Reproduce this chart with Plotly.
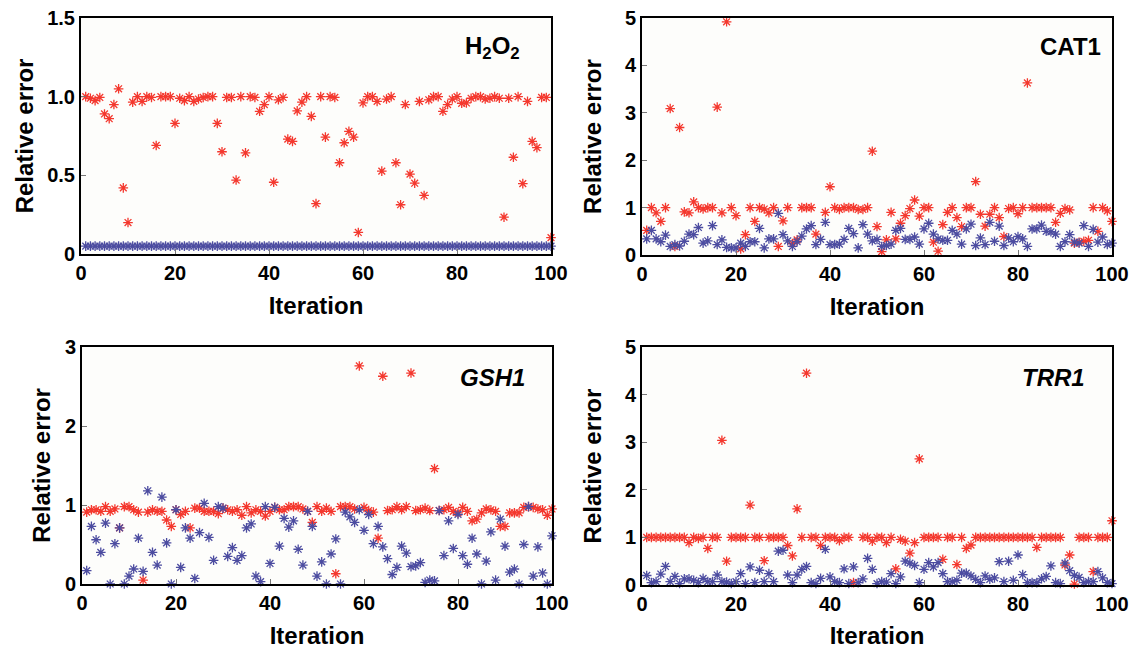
import plotly.graph_objects as go

iterations = list(range(1, 101))

h2o2_red = [1.0, 0.99, 0.975, 0.995, 0.89, 0.86, 0.95, 1.05, 0.42, 0.20,
            0.965, 1.0, 0.97, 1.0, 0.995, 0.69, 1.0, 1.0, 1.0, 0.83,
            0.99, 0.975, 1.0, 0.97, 0.985, 0.995, 1.0, 1.0, 0.83, 0.65,
            0.995, 0.995, 0.47, 1.0, 0.643, 1.0, 0.995, 0.907, 0.95, 1.0,
            0.456, 0.98, 0.995, 0.73, 0.716, 0.91, 0.965, 1.0, 0.875, 0.32,
            1.0, 0.743, 1.0, 0.995, 0.58, 0.707, 0.78, 0.743, 0.137, 0.96,
            1.0, 1.0, 0.97, 0.527, 0.985, 1.0, 0.58, 0.313, 0.95, 0.508,
            0.45, 0.97, 0.372, 0.98, 1.0, 1.0, 0.907, 0.95, 0.985, 1.0,
            0.958, 0.96, 0.99, 1.0, 1.0, 0.985, 0.99, 1.0, 0.99, 0.234,
            0.99, 0.615, 1.0, 0.447, 0.97, 0.716, 0.676, 0.995, 0.995, 0.104]
h2o2_blue = [0.05, 0.05, 0.05, 0.05, 0.05, 0.05, 0.05, 0.05, 0.05, 0.05,
             0.05, 0.05, 0.05, 0.05, 0.05, 0.05, 0.05, 0.05, 0.05, 0.05,
             0.05, 0.05, 0.05, 0.05, 0.05, 0.05, 0.05, 0.05, 0.05, 0.05,
             0.05, 0.05, 0.05, 0.05, 0.05, 0.05, 0.05, 0.05, 0.05, 0.05,
             0.05, 0.05, 0.05, 0.05, 0.05, 0.05, 0.05, 0.05, 0.05, 0.05,
             0.05, 0.05, 0.05, 0.05, 0.05, 0.05, 0.05, 0.05, 0.05, 0.05,
             0.05, 0.05, 0.05, 0.05, 0.05, 0.05, 0.05, 0.05, 0.05, 0.05,
             0.05, 0.05, 0.05, 0.05, 0.05, 0.05, 0.05, 0.05, 0.05, 0.05,
             0.05, 0.05, 0.05, 0.05, 0.05, 0.05, 0.05, 0.05, 0.05, 0.05,
             0.05, 0.05, 0.05, 0.05, 0.05, 0.05, 0.05, 0.05, 0.05, 0.05]

cat1_red = [0.52, 1.0, 0.89, 0.71, 1.0, 3.09, 0.18, 2.69, 0.91, 0.89,
            1.12, 1.0, 0.97, 1.0, 1.0, 3.12, 0.89, 4.92, 1.0, 0.83,
            0.13, 0.43, 1.0, 0.71, 1.0, 0.97, 0.89, 1.0, 0.18, 0.72,
            1.0, 0.24, 0.32, 1.0, 1.0, 1.0, 0.44, None, 0.9, 1.44,
            1.0, 0.96, 1.0, 1.0, 1.0, 0.96, 0.96, 1.0, 2.19, 0.6,
            0.07, 0.32, 0.9, 0.34, 0.67, 0.83, 0.98, 1.16, 0.82, 1.0,
            1.0, 0.27, 0.08, 0.64, 0.9, 1.0, 0.79, 0.6, 1.0, 1.0,
            1.55, 0.86, 0.61, 0.86, 1.0, 0.79, 0.39, 0.98, 1.0, 0.87,
            1.0, 3.63, 1.0, 1.0, 1.0, 1.0, 1.0, 0.69, 0.88, 0.98,
            0.95, 0.25, 0.27, 0.29, 0.31, 1.0, 0.5, 1.0, 0.93, 0.71]
cat1_blue = [0.34, 0.52, 0.34, 0.28, 0.42, 0.18, 0.22, 0.19, 0.29, 0.44,
             0.43, 0.58, 0.25, 0.3, 0.62, 0.22, 0.32, 0.16, 0.15, 0.15,
             0.25, 0.18, 0.28, 0.28, 0.56, 0.15, 0.34, 0.34, 0.88, 0.43,
             0.3, 0.18, 0.28, 0.4, 0.55, 0.62, 0.22, 0.33, 0.69, 0.22,
             0.22, 0.23, 0.33, 0.56, 0.45, 0.15, 0.64, 0.44, 0.3, 0.33,
             0.18, 0.2, 0.23, 0.52, 0.56, 0.33, 0.33, 0.38, 0.23, 0.55,
             0.67, 0.44, 0.34, 0.31, 0.31, 0.52, 0.44, 0.23, 0.55, 0.65,
             0.2, 0.36, 0.22, 0.69, 0.29, 0.61, 0.2, 0.36, 0.28, 0.39,
             0.34, 0.18, 0.55, 0.55, 0.63, 0.5, 0.49, 0.44, 0.18, 0.28,
             0.43, 0.27, 0.25, 0.62, 0.18, 0.54, 0.27, 0.38, 0.22, 0.25]

gsh1_red = [0.91, 0.94, 0.94, 0.92, 0.98, 0.92, 0.95, 0.71, 0.98, 0.98,
            0.94, 0.91, 0.05, 0.91, 0.94, 0.92, 0.92, 0.81, 0.73, 0.94,
            0.88, 0.92, 0.71, 0.96, 0.96, 0.92, 0.92, 0.92, 0.89, 0.96,
            0.94, 0.92, 0.94, 0.87, 0.98, 0.9, 0.94, 0.92, 0.86, 0.92,
            0.97, 0.94, 0.94, 0.98, 0.98, 0.98, 0.95, 0.92, 0.78, 0.98,
            0.92, 0.96, 0.92, 0.13, 0.98, 0.98, 0.98, 0.95, 2.76, 0.97,
            0.93, 0.91, 0.58, 2.63, 0.93, 0.94, 0.98, 0.94, 0.98, 2.67,
            0.93, 0.94, 0.96, 0.93, 1.46, 0.93, 0.94, 0.97, 0.92, 0.9,
            0.97, 0.92, 0.8, 0.82, 0.9, 0.95, 0.94, 0.92, 0.73, 0.73,
            0.9, 0.9, 0.9, 0.97, 0.98, 0.97, 0.95, 0.94, 0.87, 0.95]
gsh1_blue = [0.17, 0.73, 0.56, 0.40, 0.77, 0.0, 0.51, 0.71, 0.0, 0.10,
             0.19, 0.58, 0.16, 1.18, 0.40, 0.24, 1.1, 0.52, 0.0, 0.94,
             0.21, 0.71, 0.58, 0.07, 0.65, 1.02, 0.59, 0.30, 0.98, 0.96,
             0.35, 0.46, 0.30, 0.36, 0.71, 0.76, 0.1, 0.03, 0.98, 0.26,
             0.97, 0.48, 0.83, 0.72, 0.8, 0.44, 0.24, 0.92, 0.73, 0.1,
             0.28, 0.0, 0.38, 0.57, 0.0, 0.91, 0.85, 0.78, 0.94, 0.68,
             0.88, 0.51, 0.73, 0.47, 0.32, 0.12, 0.21, 0.48, 0.39, 0.22,
             0.23, 0.27, 0.02, 0.05, 0.04, 0.93, 0.36, 0.8, 0.45, 0.88,
             0.36, 0.25, 0.58, 0.38, 0.0, 0.29, 0.66, 0.05, 0.82, 0.48,
             0.15, 0.19, 0.0, 0.5, 0.98, 0.1, 0.47, 0.14, 0.0, 0.61]

trr1_red = [1.0, 1.0, 1.0, 1.0, 1.0, 1.0, 1.0, 1.0, 1.0, 0.89,
            1.0, 0.98, 1.0, 0.77, 1.0, 1.0, 3.04, 0.5, 1.0, 1.0,
            1.0, 1.0, 1.68, 1.0, 1.0, 0.51, 1.0, 1.0, 1.0, 1.0,
            0.83, 0.61, 1.6, 1.0, 4.45, 1.0, 1.0, 0.83, 1.0, 1.0,
            1.0, 0.93, 1.0, 1.0, 0.05, None, 1.0, 1.0, 0.92, 1.0,
            1.0, 0.89, 1.0, 0.34, 0.96, 0.92, 0.67, 0.89, 2.65, 1.0,
            1.0, 1.0, 1.0, 0.54, 1.0, 1.0, 0.43, 1.0, 0.77, 0.84,
            1.0, 1.0, 1.0, 1.0, 1.0, 1.0, 1.0, 1.0, 1.0, 1.0,
            1.0, 1.0, 1.0, 0.79, 1.0, 1.0, 1.0, 1.0, 1.0, 0.42,
            0.63, 0.02, 1.0, 1.0, 1.0, 0.28, 1.0, 1.0, 1.0, 1.35]
trr1_blue = [0.2, 0.05, 0.07, 0.23, 0.39, 0.07, 0.18, 0.03, 0.13, 0.13,
             0.1, 0.05, 0.14, 0.07, 0.07, 0.21, 0.07, 0.06, 0.03, 0.07,
             0.24, 0.03, 0.38, 0.05, 0.31, 0.07, 0.24, 0.07, 0.71, 0.73,
             0.21, 0.05, 0.21, 0.33, 0.39, 0.05, 0.03, 0.14, 0.75, 0.17,
             0.07, 0.05, 0.34, 0.03, 0.38, 0.05, 0.13, 0.56, 0.33, 0.03,
             0.07, 0.06, 0.24, 0.03, 0.17, 0.5, 0.46, 0.41, 0.05, 0.33,
             0.47, 0.38, 0.47, 0.24, 0.07, 0.07, 0.1, 0.25, 0.25, 0.19,
             0.12, 0.05, 0.19, 0.12, 0.15, 0.49, 0.07, 0.5, 0.1, 0.63,
             0.22, 0.05, 0.05, 0.05, 0.13, 0.18, 0.4, 0.05, 0.03, 0.46,
             0.3, 0.2, 0.16, 0.05, 0.07, 0.07, 0.28, 0.15, 0.05, 0.03]

panels = [
    dict(title="H<sub>2</sub>O<sub>2</sub>", red=h2o2_red, blue=h2o2_blue,
         yticks=[0, 0.5, 1.0, 1.5], yticktext=["0", "0.5", "1.0", "1.5"], ymax=1.5),
    dict(title="CAT1", red=cat1_red, blue=cat1_blue,
         yticks=[0, 1, 2, 3, 4, 5], yticktext=["0", "1", "2", "3", "4", "5"], ymax=5),
    dict(title="<i>GSH1</i>", red=gsh1_red, blue=gsh1_blue,
         yticks=[0, 1, 2, 3], yticktext=["0", "1", "2", "3"], ymax=3),
    dict(title="<i>TRR1</i>", red=trr1_red, blue=trr1_blue,
         yticks=[0, 1, 2, 3, 4, 5], yticktext=["0", "1", "2", "3", "4", "5"], ymax=5),
]
xticks = [0, 20, 40, 60, 80, 100]

W, H = 1131, 649
# pixel boxes (left, right, top, bottom)
boxes = [(81, 551, 18, 254), (642, 1112, 18, 255), (82, 552, 347, 584), (642, 1112, 347, 585)]
title_pos = [(492, 48), (1070, 46), (492, 377), (1053, 377)]
ystandoff = [7, 16, 7, 16]

RED = "#f4382e"
BLUE = "#4c4ca0"
font_family = "Liberation Sans, Arial, sans-serif"

fig = go.Figure()
layout = dict(
    width=W, height=H,
    margin=dict(l=0, r=0, t=0, b=0, pad=0),
    paper_bgcolor="white",
    showlegend=False,
    font=dict(family=font_family, color="black"),
    annotations=[],
)

for k, p in enumerate(panels):
    n = k + 1
    xa = "x" if n == 1 else f"x{n}"
    ya = "y" if n == 1 else f"y{n}"
    for series, color in ((p["red"], RED), (p["blue"], BLUE)):
        fig.add_trace(go.Scatter(
            x=iterations, y=series, mode="markers", xaxis=xa, yaxis=ya,
            marker=dict(symbol="asterisk-open", size=8,
                        line=dict(color=color, width=1.3), color=color),
            cliponaxis=False,
        ))
    l, r, t, b = boxes[k]
    axis_common = dict(
        showline=True, linecolor="black", linewidth=2, mirror=True,
        ticks="inside", ticklen=5, tickcolor="#777777", tickwidth=1,
        showgrid=False, zeroline=False, automargin=False,
        tickfont=dict(family=font_family, size=20, color="black", weight="bold"),
    )
    layout["xaxis" if n == 1 else f"xaxis{n}"] = dict(
        axis_common, domain=[l / W, r / W], range=[0, 100], anchor=ya,
        tickvals=xticks, ticktext=[str(v) for v in xticks],
        title=dict(text="Iteration", standoff=14,
                   font=dict(family=font_family, size=24, color="black", weight="bold")),
    )
    layout["yaxis" if n == 1 else f"yaxis{n}"] = dict(
        axis_common, domain=[1 - b / H, 1 - t / H], range=[0, p["ymax"]], anchor=xa,
        tickvals=p["yticks"], ticktext=p["yticktext"],
        title=dict(text="Relative error", standoff=ystandoff[k],
                   font=dict(family=font_family, size=24, color="black", weight="bold")),
    )
    tx, ty = title_pos[k]
    layout["annotations"].append(dict(
        text=p["title"], x=tx / W, y=1 - ty / H, xref="paper", yref="paper",
        showarrow=False, xanchor="center", yanchor="middle",
        font=dict(family=font_family, size=24, color="black", weight="bold"),
    ))

layout["plot_bgcolor"] = "#fdfdfb"
fig.update_layout(**layout)
fig.write_html(
    "out.html",
    config={"displayModeBar": False},
    post_script="document.body.style.margin='0';document.body.style.overflow='hidden';",
)
